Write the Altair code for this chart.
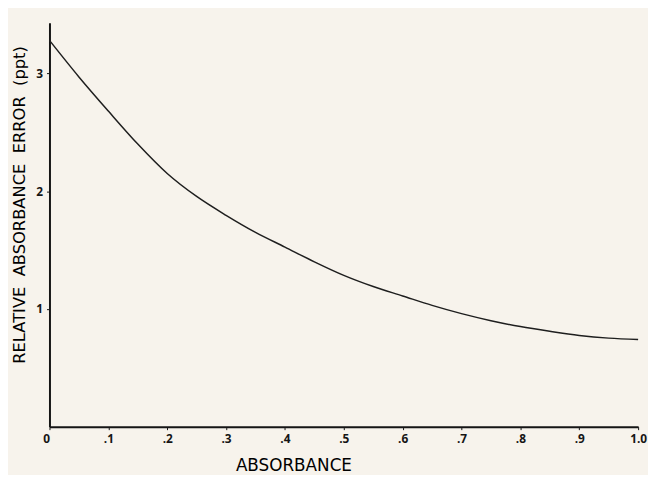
import altair as alt
import pandas as pd

absorbance = [0.00, 0.05, 0.10, 0.15, 0.20, 0.25, 0.30, 0.35, 0.40, 0.45, 0.50,
              0.55, 0.60, 0.65, 0.70, 0.75, 0.80, 0.85, 0.90, 0.95, 1.00]
rel_error = [3.28, 2.97, 2.68, 2.40, 2.15, 1.955, 1.795, 1.65, 1.525, 1.40, 1.285,
             1.19, 1.11, 1.03, 0.96, 0.90, 0.85, 0.81, 0.775, 0.752, 0.74]
x_ticks = [0, 0.1, 0.2, 0.3, 0.4, 0.5, 0.6, 0.7, 0.8, 0.9, 1.0]
y_ticks = [1, 2, 3]

df = pd.DataFrame({"absorbance": absorbance, "error": rel_error})

FONT = "Open Sans"
TITLE_FONT = "DejaVu Sans"
INK = "#151515"
GAP = "\u00a0\u00a0"

x_label_expr = ("datum.value == 0 ? '0' : (datum.value >= 1 ? '1.0' : "
                "replace(format(datum.value, '.1f'), '0.', '.'))")

chart = alt.Chart(df).mark_line(
    color="#1e1e1e", strokeWidth=1.5, interpolate="monotone"
).encode(
    x=alt.X(
        "absorbance:Q",
        scale=alt.Scale(domain=[0, 1], nice=False, zero=False),
        axis=alt.Axis(
            values=x_ticks, labelExpr=x_label_expr, grid=False,
            title="ABSORBANCE", titleFont=TITLE_FONT, titleFontSize=17,
            titleFontWeight="normal", titleColor="#000000",
            titleX=247, titleY=39, titleBaseline="middle", titleAlign="center",
            domainColor=INK, domainWidth=2, tickColor=INK, tickSize=3, tickWidth=1,
            labelFont=FONT, labelFontSize=12, labelFontWeight="bold", labelColor=INK,
            labelPadding=4, labelFlush=False,
            labelAlign={"condition": {"test": "datum.value === 0", "value": "right"},
                        "value": "center"},
        ),
    ),
    y=alt.Y(
        "error:Q",
        scale=alt.Scale(domain=[0, 3.43], nice=False),
        axis=alt.Axis(
            values=y_ticks, format="d", grid=False,
            title=f"RELATIVE{GAP}ABSORBANCE{GAP}ERROR{GAP}(ppt)", titleFont=TITLE_FONT,
            titleFontSize=16.5, titleFontWeight="normal", titleColor="#000000",
            titleX=-30, titleY=184, titleAngle=270, titleBaseline="middle",
            titleAlign="center",
            domainColor=INK, domainWidth=2, tickColor=INK, tickSize=3, tickWidth=1,
            labelFont=FONT, labelFontSize=12, labelFontWeight="bold", labelColor=INK,
            labelPadding=4,
        ),
    ),
).properties(
    width=596,
    height=409,
    autosize="none",
    padding={"left": 42, "top": 12, "right": 10, "bottom": 46},
    background="#f7f3ec",
).configure_view(stroke=None)

chart.save("out.html", embed_options={"renderer": "svg", "actions": False})
